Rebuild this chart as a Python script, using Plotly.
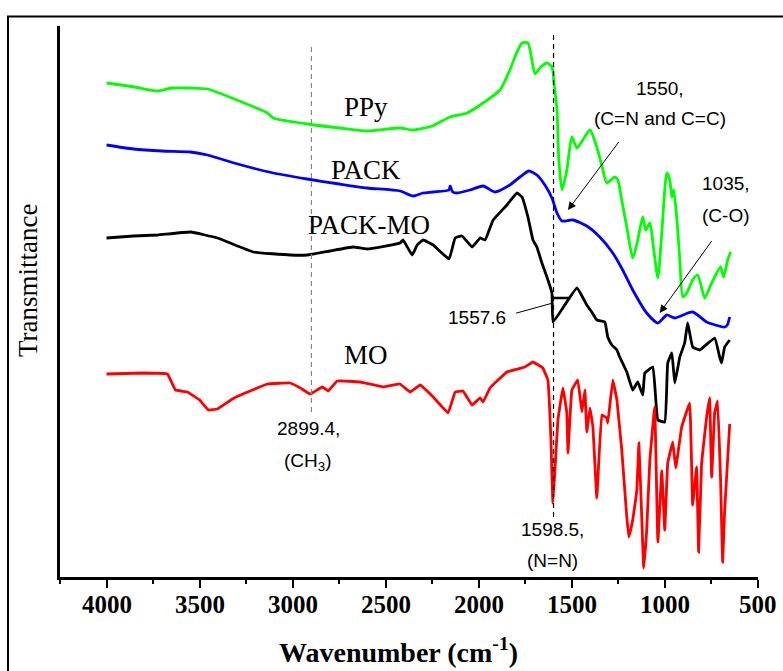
import plotly.graph_objects as go

# ---------------- data ----------------
# wavenumber (cm-1) and offset transmittance (arbitrary units)
ppy_wn = [4000, 3850, 3726, 3650, 3549, 3458, 3300, 3136, 3104, 2922,
          2750, 2600, 2423, 2353, 2250, 2154, 2063, 1977, 1886, 1833,
          1806, 1768, 1736, 1698, 1672, 1634, 1607, 1596, 1580, 1570,
          1553, 1527, 1500, 1473, 1441, 1403, 1366, 1340, 1312, 1290,
          1269, 1253, 1232, 1205, 1173, 1146, 1119, 1103, 1081, 1060,
          1038, 1017, 990, 974, 963, 953, 937, 920, 904, 883,
          851, 824, 786, 749, 701, 685, 663, 647]
ppy_t = [494, 490, 486, 489, 489, 488, 477, 464, 459, 453,
         449, 446, 449, 447, 451, 460, 464, 474, 487, 507,
         520, 534, 534, 503, 509, 514, 510, 494, 467, 417,
         387, 407, 440, 429, 437, 447, 430, 412, 394, 397,
         400, 397, 377, 350, 319, 337, 360, 347, 354, 327,
         299, 344, 404, 397, 380, 387, 360, 317, 280, 284,
         297, 302, 279, 294, 310, 300, 317, 325]

pack_wn = [4000, 3855, 3700, 3549, 3458, 3315, 3104, 2922, 2750, 2600,
           2423, 2353, 2300, 2245, 2160, 2154, 2140, 2117, 2047, 1977,
           1913, 1833, 1779, 1731, 1688, 1645, 1607, 1580, 1553, 1495,
           1420, 1350, 1280, 1227, 1173, 1098, 1038, 990, 947, 851,
           776, 679, 665, 652]
pack_t = [432, 428, 426, 425, 422, 414, 404, 398, 393, 389,
          386, 381, 384, 385, 387, 391, 385, 384, 387, 391,
          385, 392, 400, 406, 402, 392, 379, 364, 356, 357,
          351, 340, 324, 307, 287, 264, 254, 262, 259, 265,
          255, 250, 252, 260]

packmo_wn = [4000, 3855, 3726, 3549, 3404, 3211, 3013, 2922, 2800, 2675,
             2600, 2423, 2407, 2358, 2331, 2299, 2245, 2160, 2127, 2090,
             2036, 1993, 1966, 1923, 1849, 1795, 1768, 1736, 1709, 1688,
             1661, 1634, 1607, 1601, 1473, 1420, 1393, 1366, 1323, 1307,
             1285, 1258, 1243, 1205, 1173, 1146, 1119, 1108, 1065, 1038,
             1001, 985, 963, 947, 920, 894, 878, 851, 813, 733,
             706, 696, 679, 652]
packmo_t = [339, 341, 342, 345, 339, 325, 322, 322, 326, 330,
            328, 334, 337, 322, 332, 337, 332, 318, 339, 341,
            330, 339, 337, 357, 372, 384, 380, 360, 337, 330,
            314, 300, 284, 255, 289, 272, 265, 257, 255, 240,
            232, 227, 220, 205, 187, 195, 182, 204, 210, 157,
            155, 214, 224, 194, 220, 234, 254, 230, 227, 239,
            220, 214, 230, 237]

mo_wn = [4000, 3800, 3673, 3630, 3565, 3500, 3453, 3404, 3315, 3136,
         3013, 2959, 2906, 2841, 2809, 2761, 2637, 2514, 2423, 2369,
         2315, 2245, 2165, 2127, 2085, 2036, 1993, 1977, 1940, 1849,
         1752, 1709, 1656, 1629, 1613, 1602, 1591, 1575, 1548, 1527,
         1521, 1500, 1468, 1446, 1430, 1420, 1403, 1387, 1366, 1339,
         1312, 1307, 1280, 1258, 1232, 1205, 1194, 1173, 1151, 1140,
         1124, 1114, 1098, 1081, 1055, 1038, 1017, 1001, 985, 958,
         942, 910, 867, 851, 830, 819, 803, 776, 760, 749,
         733, 717, 701, 690, 679, 652]
mo_t = [203, 204, 203, 187, 185, 177, 167, 168, 179, 193,
        194, 189, 183, 190, 186, 196, 195, 190, 193, 185,
        192, 180, 164, 185, 186, 172, 179, 175, 189, 205,
        210, 215, 209, 197, 140, 74, 107, 157, 189, 164,
        124, 187, 197, 165, 187, 145, 169, 150, 79, 162,
        159, 154, 197, 177, 127, 60, 40, 57, 87, 134,
        57, 9, 47, 117, 170, 35, 106, 47, 114, 135,
        109, 150, 174, 72, 110, 25, 114, 160, 179, 100,
        164, 176, 97, 15, 67, 153]

series_names = ["PPy", "PACK", "PACK-MO", "MO"]
series_colors = ["#00FF00", "#0000FF", "#000000", "#FF0000"]
series_smoothing = [0.6, 0.6, 0.3, 0.2]
x_ticks = [4000, 3500, 3000, 2500, 2000, 1500, 1000, 500]
x_tick_labels = [str(v) for v in x_ticks]

# ---------------- figure ----------------
SERIF = "Liberation Serif"
SANS = "Liberation Sans"

fig = go.Figure()
for wn, t, name, col, sm in zip([ppy_wn, pack_wn, packmo_wn, mo_wn],
                                [ppy_t, pack_t, packmo_t, mo_t],
                                series_names, series_colors, series_smoothing):
    fig.add_trace(go.Scatter(x=wn, y=t, mode="lines", name=name,
                             line=dict(color=col, width=2.8, shape="spline", smoothing=sm),
                             showlegend=False))

# dashed reference lines
fig.add_shape(type="line", x0=2899.4, x1=2899.4, y0=165, y1=530,
              xref="x", yref="y", line=dict(color="#888888", width=1.2, dash="5px,4px"))
fig.add_shape(type="line", x0=1598.5, x1=1598.5, y0=60, y1=542,
              xref="x", yref="y", line=dict(color="#000000", width=1.2, dash="5px,4px"))
# small segment near the 1557.6 pointer
fig.add_shape(type="line", x0=1602, x1=1511, y0=279, y1=279,
              xref="x", yref="y", line=dict(color="#000000", width=2.5))

# outer frame
fig.add_shape(type="rect", xref="paper", yref="paper",
              x0=(8 - 60) / 698, x1=(810 - 60) / 698,
              y0=(577 - 700) / 551, y1=(577 - 16.5) / 551,
              line=dict(color="black", width=2), layer="above")

ann = []
def lab(x, y, text, size, family, xanchor="center", xref="x", yref="y", **kw):
    ann.append(dict(x=x, y=y, xref=xref, yref=yref, text=text, showarrow=False,
                    xanchor=xanchor, yanchor="middle",
                    font=dict(family=family, size=size, color="black"), **kw))

# x tick labels (bold serif), placed at the axis tick values
for v, s in zip(x_ticks, x_tick_labels):
    lab(v, (577 - 604) / 551, "<b>%s</b>" % s, 25, SERIF, yref="paper")

# series labels
lab(2605, 470, "PPy", 27, SERIF)
lab(2605, 407, "PACK", 27, SERIF)
lab(2589, 352, "PACK-MO", 27, SERIF)
lab(2605, 222, "MO", 27, SERIF)

# peak annotations
lab(1028, 489, "1550,", 19, SANS)
lab(1028, 459, "(C=N and C=C)", 19, SANS)
lab(813, 394, "1035,", 19, SANS, xanchor="left")
lab(813, 362, "(C-O)", 19, SANS, xanchor="left")
lab(1843, 260, "1557.6", 19, SANS, xanchor="right")
lab(2916, 149, "2899.4,", 19, SANS)
lab(2916, 115, "(CH<sub>3</sub>)", 19, SANS)
lab(1602, 48, "1598.5,", 19, SANS)
lab(1602, 17, "(N=N)", 19, SANS)

# arrows
ann.append(dict(x=1521, y=367, ax=1232, ay=439, xref="x", yref="y", axref="x", ayref="y",
                showarrow=True, arrowhead=2, arrowsize=1.6, arrowwidth=1, arrowcolor="black", text=" "))
ann.append(dict(x=1028, y=264, ax=733, ay=340, xref="x", yref="y", axref="x", ayref="y",
                showarrow=True, arrowhead=2, arrowsize=1.6, arrowwidth=1, arrowcolor="black", text=" "))
ann.append(dict(x=1602, y=274, ax=1816, ay=263, xref="x", yref="y", axref="x", ayref="y",
                showarrow=True, arrowhead=0, arrowwidth=1, arrowcolor="black", text=" "))

# axis titles
lab((28 - 60) / 698, (577 - 280) / 551, "Transmittance", 27, SERIF,
    xref="paper", yref="paper", textangle=-90)
lab((398.5 - 60) / 698, (577 - 650) / 551, "<b>Wavenumber (cm<sup>-1</sup>)</b>", 28, SERIF,
    xref="paper", yref="paper")

fig.update_layout(
    font=dict(family=SERIF, color="black"),
    width=783, height=671,
    margin=dict(l=60, r=25, t=26, b=94),
    paper_bgcolor="white", plot_bgcolor="white",
    annotations=ann,
    xaxis=dict(range=[4250, 500], tickvals=x_ticks, showticklabels=False,
               showline=True, linecolor="black", linewidth=2.5,
               ticks="outside", ticklen=8, tickwidth=2, tickcolor="black",
               minor=dict(dtick=250, tick0=500, ticks="outside", ticklen=4, tickwidth=2, tickcolor="black"),
               showgrid=False, zeroline=False),
    yaxis=dict(range=[0, 551], showline=True, linecolor="black", linewidth=2.5,
               ticks="", showticklabels=False, showgrid=False, zeroline=False),
)

fig.write_html("out.html")
